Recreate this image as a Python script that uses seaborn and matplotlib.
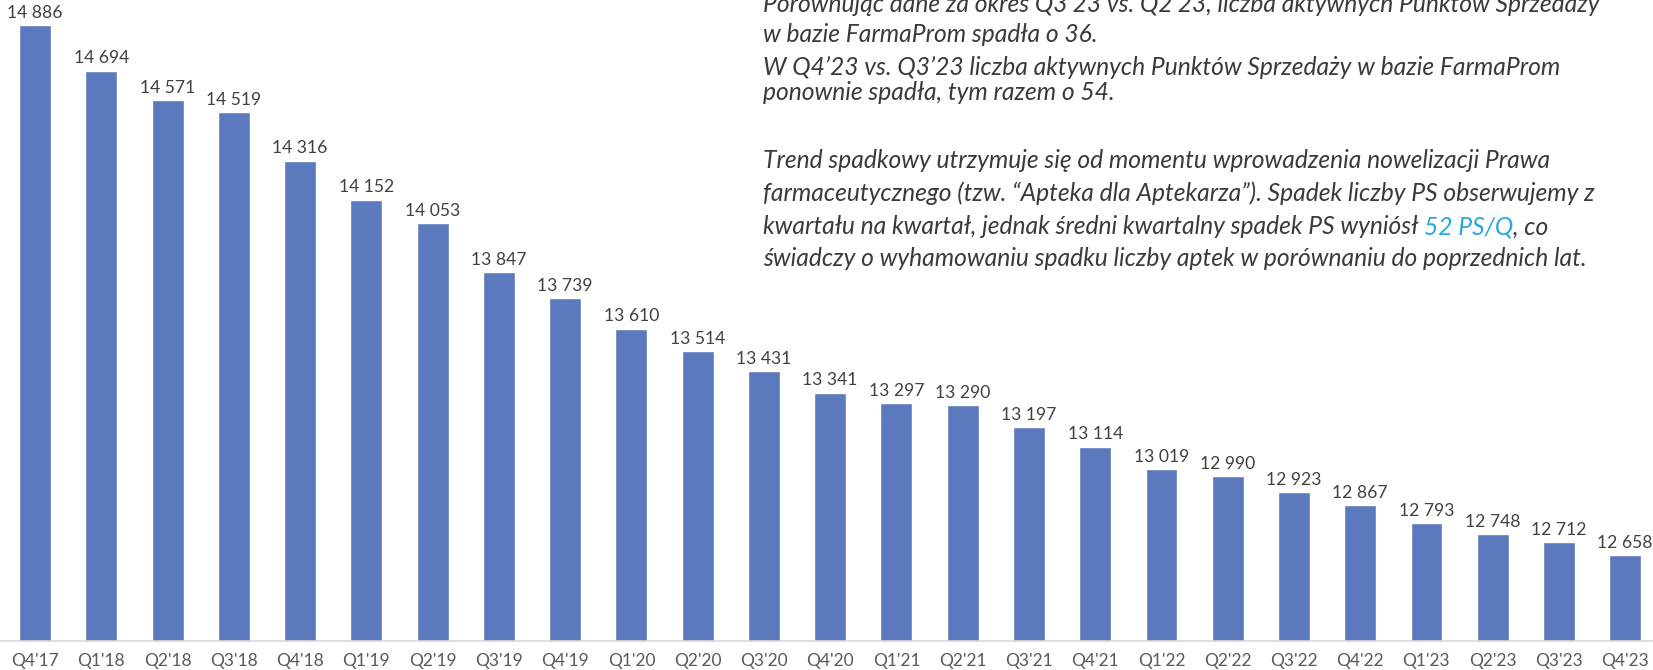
import matplotlib
matplotlib.use("Agg")
import matplotlib.pyplot as plt
import seaborn as sns
import pandas as pd

quarters = ["Q4'17", "Q1'18", "Q2'18", "Q3'18", "Q4'18", "Q1'19", "Q2'19", "Q3'19",
            "Q4'19", "Q1'20", "Q2'20", "Q3'20", "Q4'20", "Q1'21", "Q2'21", "Q3'21",
            "Q4'21", "Q1'22", "Q2'22", "Q3'22", "Q4'22", "Q1'23", "Q2'23", "Q3'23", "Q4'23"]
active_ps = [14886, 14694, 14571, 14519, 14316, 14152, 14053, 13847, 13739, 13610,
             13514, 13431, 13341, 13297, 13290, 13197, 13114, 13019, 12990, 12923,
             12867, 12793, 12748, 12712, 12658]

note_lines = [
    "Porównując dane za okres Q3\u201923 vs. Q2\u201923, liczba aktywnych Punktów Sprzedaży",
    "w bazie FarmaProm spadła o 36.",
    "W Q4\u201923 vs. Q3\u201923 liczba aktywnych Punktów Sprzedaży w bazie FarmaProm",
    "ponownie spadła, tym razem o 54.",
    "Trend spadkowy utrzymuje się od momentu wprowadzenia nowelizacji Prawa",
    "farmaceutycznego (tzw. \u201cApteka dla Aptekarza\u201d). Spadek liczby PS obserwujemy z",
    "kwartału na kwartał, jednak średni kwartalny spadek PS wyniósł ",
    "świadczy o wyhamowaniu spadku liczby aptek w porównaniu do poprzednich lat.",
]
highlight = "52 PS/Q"
highlight_tail = ", co"

df = pd.DataFrame({"quarter": quarters, "ps": active_ps})

sns.set_style("white")
plt.rcParams["font.family"] = ["Lato", "DejaVu Sans"]

fig = plt.figure(figsize=(16.53, 6.70), dpi=100)
ax = fig.add_axes([0, 0.0433, 1, 0.9567])

sns.barplot(data=df, x="quarter", y="ps", color="#5B79BD", saturation=1,
            width=0.48, ax=ax)
ax.bar_label(ax.containers[0], labels=[f"{v:,}".replace(",", " ") for v in active_ps],
             padding=3, fontsize=12.6, color="#404040")

ax.set_ylim(12297, 14991)
ax.set_xlim(-0.53, 24.42)
ax.set_xlabel("")
ax.set_ylabel("")
ax.set_yticks([])
for s in ["top", "left", "right"]:
    ax.spines[s].set_visible(False)
ax.spines["bottom"].set_color("#D9D9D9")
ax.spines["bottom"].set_linewidth(1.2)
ax.tick_params(axis="x", length=0, pad=9, labelsize=12.5, labelcolor="#595959")

# comment block in the top right
x0 = 763 / 1653
centers = [4, 35, 67, 93, 160, 193, 227, 259]
txt_kw = dict(fontsize=17.7, style="italic", fontweight="normal", color="#3a3a3a",
              va="center", ha="left")
for line, yc in zip(note_lines, centers):
    t = fig.text(x0, 1 - yc / 670, line, **txt_kw)
    if line.startswith("kwartału"):
        last = t

fig.canvas.draw()
r = fig.canvas.get_renderer()
bb = last.get_window_extent(r)
xh = bb.x1 / fig.bbox.width
t2 = fig.text(xh, last.get_position()[1], highlight, **{**txt_kw, "color": "#2AA6DE"})
bb2 = t2.get_window_extent(r)
fig.text(bb2.x1 / fig.bbox.width, last.get_position()[1], highlight_tail, **txt_kw)

fig.savefig("out.png", dpi=100)
